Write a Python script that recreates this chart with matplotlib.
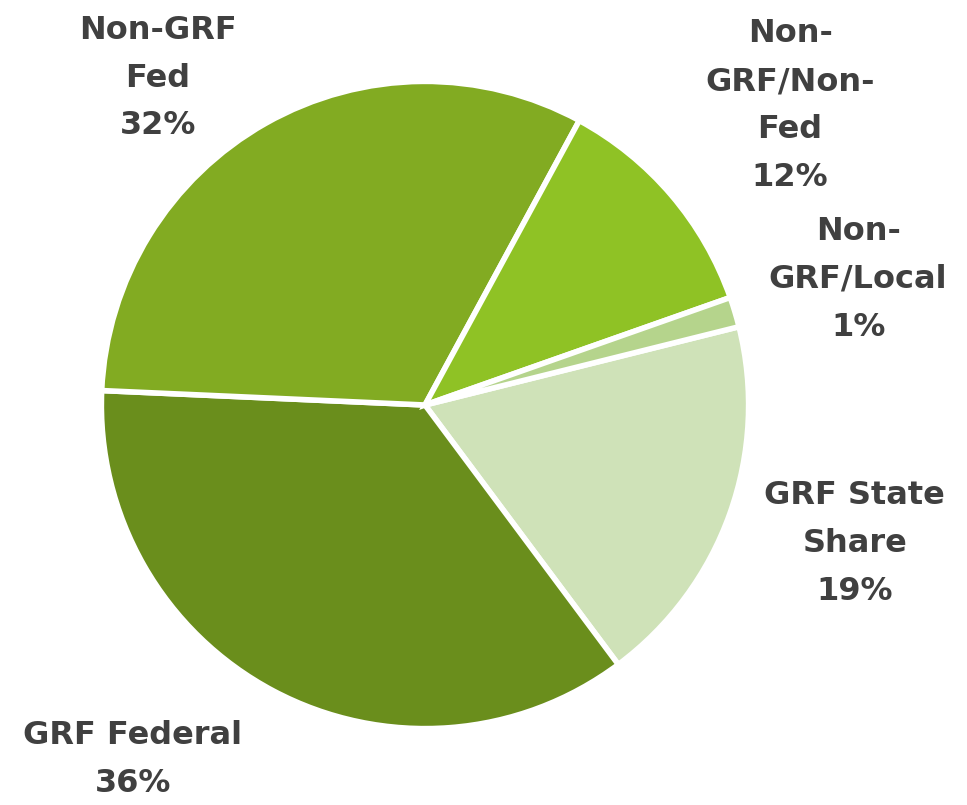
import matplotlib
matplotlib.use('Agg')
import matplotlib.pyplot as plt

# slices, clockwise from the right side
labels = ['GRF State\nShare', 'GRF Federal', 'Non-GRF\nFed', 'Non-\nGRF/Non-\nFed', 'Non-\nGRF/Local']
values = [18.7, 35.9, 32.2, 11.7, 1.5]
pct_text = ['19%', '36%', '32%', '12%', '1%']
colors = ['#cfe2b8', '#6a8e1c', '#82ab22', '#8fc225', '#b5d48c']

# where the label block centres sit (data units, pie radius = 1)
label_pos = [(1.335, -0.43), (-0.907, -1.10), (-0.829, 1.015), (1.134, 0.93), (1.345, 0.39)]

fig = plt.figure(figsize=(9.67, 8.05), dpi=100)
ax = fig.add_axes([0, 0, 1, 1])

ax.pie(values, colors=colors, startangle=14, counterclock=False, radius=1.005,
       wedgeprops=dict(edgecolor='white', linewidth=4))

for lab, pct, (x, y) in zip(labels, pct_text, label_pos):
    ax.text(x, y, lab + '\n' + pct, ha='center', va='center',
            fontsize=23, fontweight='bold', color='#404040',
            linespacing=1.7, family='DejaVu Sans')

ax.set_xlim(-425 / 322, (967 - 425) / 322)
ax.set_ylim(-400 / 322, 405 / 322)
ax.set_aspect('equal')
ax.axis('off')

fig.savefig('out.png', dpi=100)
